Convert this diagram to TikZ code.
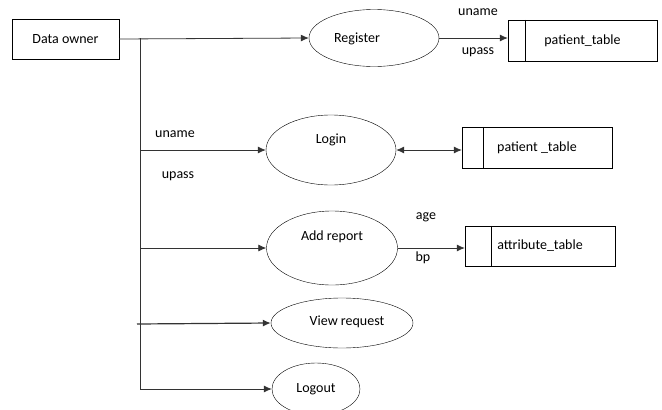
\documentclass[tikz,border=0pt]{standalone}
\usepackage{fontspec}
\setmainfont{Carlito}
\usepackage{tikz}
\usetikzlibrary{shapes}
\usetikzlibrary{arrows.meta}
\tikzset{
	user node/.style={rectangle,draw,minimum width=107pt,minimum height=40pt},
	proc node/.style={ellipse,draw,inner sep=0pt},
	table node/.style={rectangle,draw,minimum width=150pt,minimum height=41pt},
	flow/.style={draw=black!80,line width=0.8pt}
}

\begin{document}
\begin{tikzpicture}[x=1pt,y=-1pt,font=\fontsize{14}{16}\selectfont,
	    >={Latex[length=8pt,width=7pt]}]
	    \useasboundingbox (0,0) rectangle (662,410);
	    \node [user node] (owner) at (65.5,39) {Data owner};
	    \node [proc node,minimum width=130pt,minimum height=57pt,
	      label={[xshift=-17pt,yshift=-1pt]center:Register}] (reg) at (374,38) {};
	    \node [proc node,minimum width=130pt,minimum height=70pt,
	      label={[yshift=10pt]center:Login}] (login) at (331,150) {};
	    \node [proc node,minimum width=131pt,minimum height=74pt,
	      label={[yshift=11pt]center:Add report}] (addrep) at (332,248) {};
	    \node [proc node,minimum width=142pt,minimum height=50pt,
	      label={[xshift=5pt,yshift=1pt]center:View request}] (view) at (342,323) {};
	    \node [proc node,minimum width=88pt,minimum height=52pt,
	      label={center:Logout}] (logout) at (316,389) {};
	    % tables
	    \node [table node,minimum width=149pt] (ptab1) at (582.5,40.5) {patient\_table};
	    \node [table node] (ptab2) at (537,147.5) {patient \_table};
	    \node [table node,minimum height=40pt] (atab) at (540,246) {attribute\_table};
	    \draw ([xshift=17pt]ptab1.north west) -- ([xshift=17pt]ptab1.south west);
	    \draw ([xshift=21pt]ptab2.north west) -- ([xshift=21pt]ptab2.south west);
	    \draw ([xshift=26pt]atab.north west) -- ([xshift=26pt]atab.south west);
	    % trunk
	    \coordinate (t0) at (140,38);
	    \coordinate (t1) at (140,150);
	    \coordinate (t2) at (140,248);
	    \coordinate (t3) at (137,324);
	    \coordinate (t4) at (140,389);
	    \draw [flow] (t0) -- (t4);
	    \draw [flow,->] (owner.east) -- (reg.west);
	    \draw [flow,->] (t1) -- (login.west);
	    \draw [flow,->] (t2) -- (addrep.west);
	    \draw [flow,->,line width=1.2pt] (t3) -- (view.west);
	    \draw [flow,->] (t4) -- (logout.west);
	    \draw [flow,->] (reg.east) -- (ptab1.west |- reg.east);
	    \draw [flow,<->] (login.east) -- (ptab2.west |- login.east);
	    \draw [flow,->] (addrep.east) -- (atab.west |- addrep.east);
	    % labels
	    \node (l1) at (478,12) {uname};
	    \node (l2) at (478,52) {upass};
	    \node (l3) at (175,134) {uname};
	    \node (l4) at (178,176) {upass};
	    \node (l5) at (426,217) {age};
	    \node (l6) at (423,258) {bp};
	  \end{tikzpicture}
\end{document}
